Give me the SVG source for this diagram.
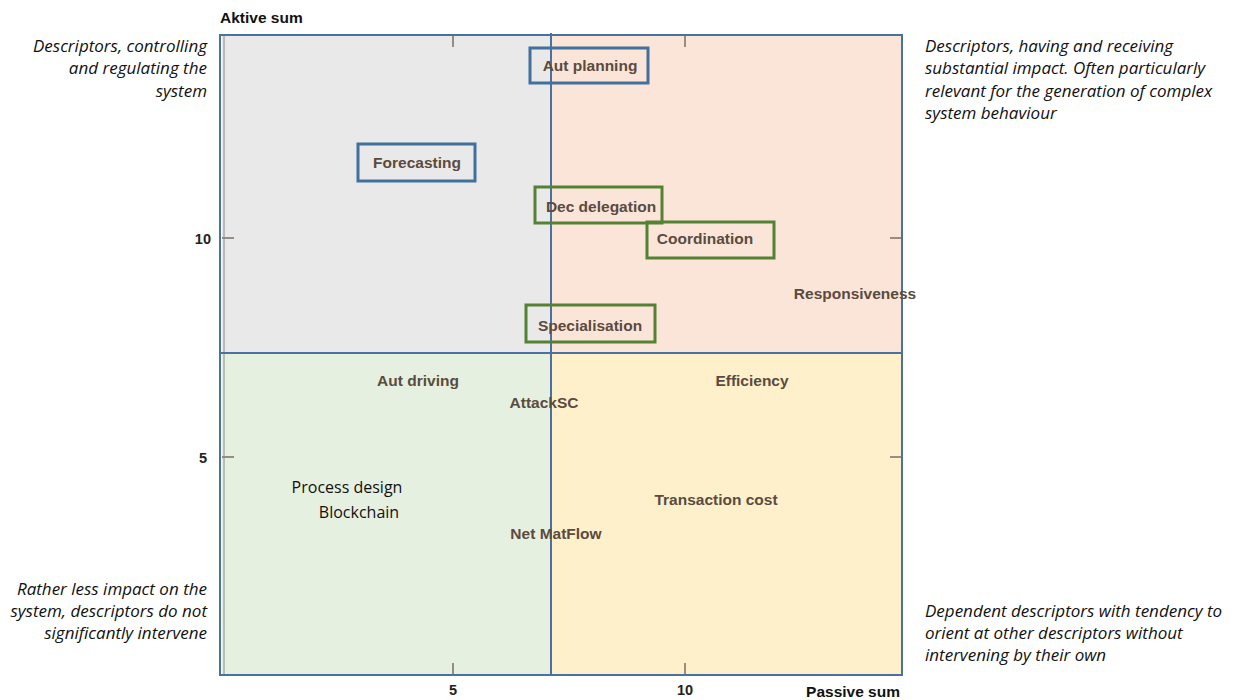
<svg xmlns="http://www.w3.org/2000/svg" width="1240" height="700" viewBox="0 0 1240 700">
  <style>
    .axis { font-family: "Liberation Sans", Arial, sans-serif; font-weight: bold; font-size: 15.5px; fill: #111; }
    .tick-lbl { font-family: "Liberation Sans", Arial, sans-serif; font-weight: bold; font-size: 14.5px; fill: #222; }
    .note { font-family: "Open Sans", "Liberation Sans", sans-serif; font-style: italic; font-size: 17px; fill: #111; }
    .note-r { text-anchor: end; }
    .lbl { font-family: "Liberation Sans", Arial, sans-serif; font-weight: bold; font-size: 15.5px; fill: #5a4b3e; text-anchor: middle; }
    .plain { font-family: "Open Sans", "Liberation Sans", sans-serif; font-size: 16px; fill: #111; text-anchor: middle; }
    .tick { stroke: #7a6e66; stroke-width: 1.5; }
    .frame { stroke: #4a72a0; stroke-width: 2; fill: none; }
    .box-blue { fill: none; stroke: #41709c; stroke-width: 3; }
    .box-green { fill: none; stroke: #548235; stroke-width: 3; }
  </style>

  <rect width="1240" height="700" fill="#ffffff"/>

  <!-- quadrant fills -->
  <g id="quadrants">
    <rect x="222" y="35" width="329" height="318" fill="#e9e9e9"/>
    <rect x="551" y="35" width="351" height="318" fill="#fbe5d8"/>
    <rect x="222" y="353" width="329" height="322" fill="#e6f0e0"/>
    <rect x="551" y="353" width="351" height="322" fill="#fff0cc"/>
  </g>

  <!-- ticks -->
  <g id="ticks">
    <line class="tick" x1="453" y1="35" x2="453" y2="47"/>
    <line class="tick" x1="685" y1="35" x2="685" y2="47"/>
    <line class="tick" x1="453" y1="663" x2="453" y2="675"/>
    <line class="tick" x1="685" y1="663" x2="685" y2="675"/>
    <line class="tick" x1="222" y1="238" x2="234" y2="238"/>
    <line class="tick" x1="222" y1="457" x2="234" y2="457"/>
    <line class="tick" x1="890" y1="238" x2="902" y2="238"/>
    <line class="tick" x1="890" y1="457" x2="902" y2="457"/>
    <line x1="224" y1="35" x2="224" y2="675" stroke="#8a8a8a" stroke-width="1"/>
    <line x1="551" y1="35" x2="902" y2="35" stroke="#7a6e66" stroke-width="2"/>
  </g>

  <!-- frame and dividers -->
  <g id="frame">
    <polyline class="frame" points="551,35 220,35 220,675 902,675 902,35 551,35"/>
    <line class="frame" x1="551" y1="33" x2="551" y2="675"/>
    <line class="frame" x1="220" y1="353" x2="902" y2="353"/>
  </g>

  <!-- axis titles and numbers -->
  <g id="axes">
    <text class="axis" x="220" y="23">Aktive sum</text>
    <text class="axis" x="900" y="697" text-anchor="end">Passive sum</text>
    <text class="tick-lbl" x="211" y="244" text-anchor="end">10</text>
    <text class="tick-lbl" x="207" y="463" text-anchor="end">5</text>
    <text class="tick-lbl" x="453" y="695" text-anchor="middle">5</text>
    <text class="tick-lbl" x="685" y="695" text-anchor="middle">10</text>
  </g>

  <!-- quadrant descriptions -->
  <g id="notes">
    <text class="note note-r" x="207" y="52">Descriptors, controlling</text>
    <text class="note note-r" x="207" y="74">and regulating the</text>
    <text class="note note-r" x="207" y="97">system</text>

    <text class="note" x="925" y="52">Descriptors, having and receiving</text>
    <text class="note" x="925" y="74">substantial impact. Often particularly</text>
    <text class="note" x="925" y="97">relevant for the generation of complex</text>
    <text class="note" x="925" y="119">system behaviour</text>

    <text class="note note-r" x="207" y="595">Rather less impact on the</text>
    <text class="note note-r" x="207" y="617">system, descriptors do not</text>
    <text class="note note-r" x="207" y="639">significantly intervene</text>

    <text class="note" x="925" y="617">Dependent descriptors with tendency to</text>
    <text class="note" x="925" y="639">orient at other descriptors without</text>
    <text class="note" x="925" y="661">intervening by their own</text>
  </g>

  <!-- descriptor nodes -->
  <g id="node-aut-planning">
    <rect class="box-blue" x="530" y="48" width="118" height="35"/>
    <text class="lbl" x="590" y="71">Aut planning</text>
  </g>
  <g id="node-forecasting">
    <rect class="box-blue" x="358" y="144" width="117" height="37"/>
    <text class="lbl" x="417" y="168">Forecasting</text>
  </g>
  <g id="node-dec-delegation">
    <rect class="box-green" x="535" y="187" width="127" height="36"/>
    <text class="lbl" x="601" y="212">Dec delegation</text>
  </g>
  <g id="node-coordination">
    <rect class="box-green" x="647" y="222" width="127" height="36"/>
    <text class="lbl" x="705" y="244">Coordination</text>
  </g>
  <g id="node-specialisation">
    <rect class="box-green" x="526" y="305" width="129" height="37"/>
    <text class="lbl" x="590" y="331">Specialisation</text>
  </g>
  <g id="node-responsiveness">
    <text class="lbl" x="855" y="299">Responsiveness</text>
  </g>
  <g id="node-aut-driving">
    <text class="lbl" x="418" y="386">Aut driving</text>
  </g>
  <g id="node-attacksc">
    <text class="lbl" x="544" y="408">AttackSC</text>
  </g>
  <g id="node-efficiency">
    <text class="lbl" x="752" y="386">Efficiency</text>
  </g>
  <g id="node-process-design">
    <text class="plain" x="347" y="493">Process design</text>
  </g>
  <g id="node-blockchain">
    <text class="plain" x="359" y="518">Blockchain</text>
  </g>
  <g id="node-transaction-cost">
    <text class="lbl" x="716" y="505">Transaction cost</text>
  </g>
  <g id="node-net-matflow">
    <text class="lbl" x="556" y="539">Net MatFlow</text>
  </g>

  <!-- no connectors in this chart -->
  <g id="connectors"/>
</svg>
